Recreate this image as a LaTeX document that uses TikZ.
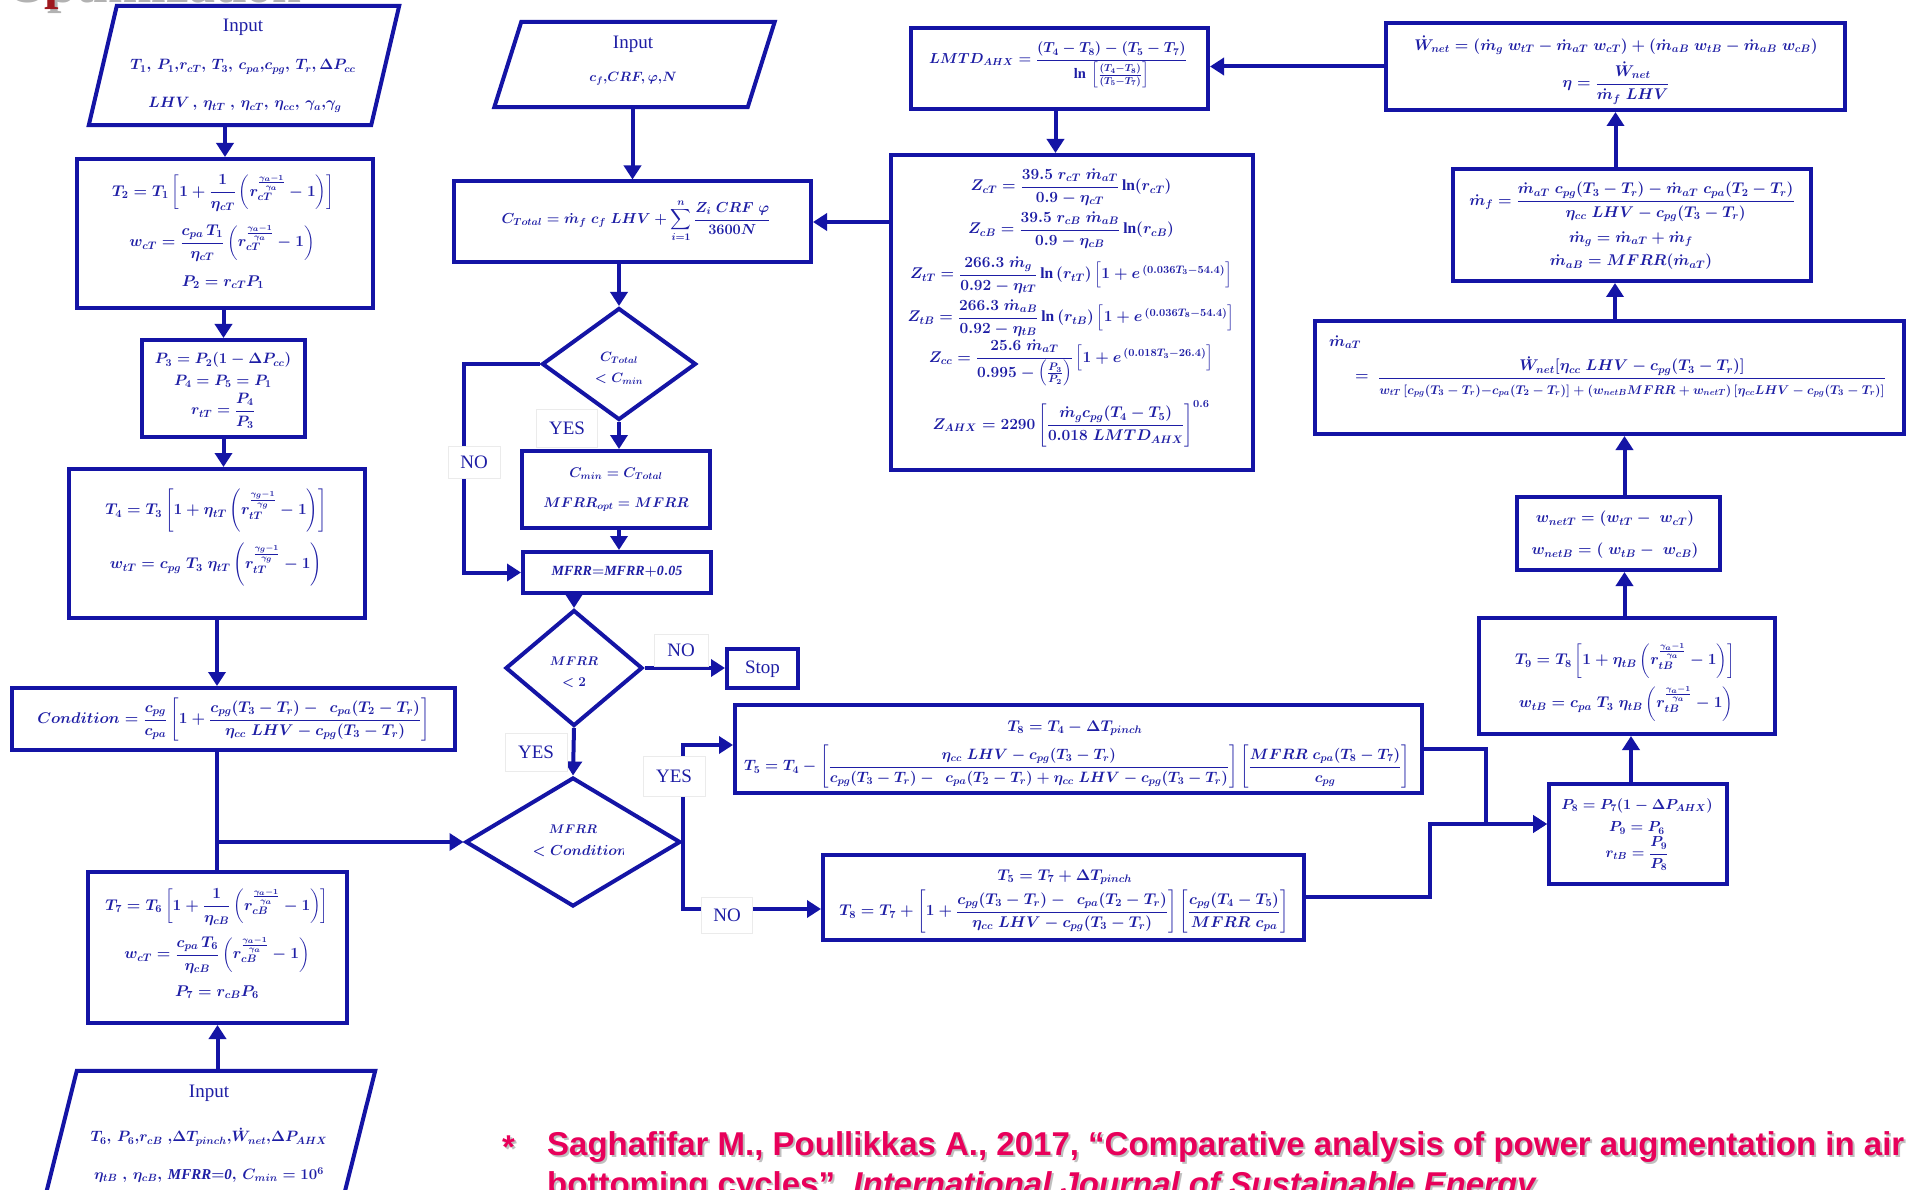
\RequirePackage{fix-cm}
\documentclass[tikz,border=0pt]{standalone}
\usepackage{amsmath}
\usepackage{fontspec}
\setmainfont{Liberation Serif}
\newfontfamily\notefont{Liberation Sans}
\usetikzlibrary{arrows.meta,shapes.geometric,calc}

\definecolor{flowline}{RGB}{20,20,165}
\definecolor{flowtext}{RGB}{30,30,165}
\definecolor{citered}{RGB}{232,0,90}
\definecolor{titlered}{RGB}{158,24,30}

\tikzset{
  box/.style={draw=flowline, line width=4pt, rectangle, inner sep=0pt},
  frame/.style={rectangle, inner sep=0pt},
  decision/.style={draw=flowline, line width=4pt, diamond, inner sep=0pt},
  eqbase/.style={text=flowtext, inner sep=0pt},
  eq/.style={eqbase, font=\fontsize{15.5}{19}\selectfont\boldmath},
  eqin/.style={eqbase, font=\fontsize{15}{18}\selectfont\boldmath},
  eqm/.style={eqbase, font=\fontsize{14.5}{18}\selectfont\boldmath},
  eqs/.style={eqbase, font=\fontsize{14}{17}\selectfont\boldmath},
  eqd/.style={eqbase, font=\fontsize{13.5}{16}\selectfont\boldmath},
  eqt/.style={eqbase, font=\fontsize{12.5}{15}\selectfont\boldmath},
  word/.style={text=flowtext, inner sep=0pt, font=\fontsize{19}{22}\selectfont},
  tag/.style={fill=white, draw=black!8, line width=0.6pt, inner sep=0pt, text=flowtext, font=\fontsize{19}{22}\selectfont},
  link/.style={draw=flowline, line width=4pt},
  arr/.style={link, -{Triangle[length=14pt,width=17pt]}},
  cite/.style={anchor=base west, inner sep=0pt, text=citered, font=\notefont\bfseries\fontsize{33}{40}\selectfont},
  citeshade/.style={cite, text=black!25},
}

\begin{document}
\begin{tikzpicture}[x=1pt,y=-1pt]
\useasboundingbox (0,0) rectangle (1907,1190);
\fill[white] (0,0) rectangle (1907,1190);
\begin{scope}
\clip (0,0) rectangle (1907,1190);

% heading, cut by the upper edge
\node[anchor=base west, inner sep=0pt, text=black!30, font=\fontsize{52}{60}\selectfont\bfseries] (titleshade) at (7,3) {Optimization};
\node[anchor=base west, inner sep=0pt, text=titlered, font=\fontsize{52}{60}\selectfont\bfseries] (title) at (4,-1) {Optimization};

% ---------------- left column: topping cycle ----------------
\node[frame, minimum width=282pt, minimum height=119pt] (in1) at (244,65.5) {};
\draw[link] ($(in1.north west)+(14,0)$) -- ($(in1.north east)+(14,0)$) -- ($(in1.south east)+(-14,0)$) -- ($(in1.south west)+(-14,0)$) -- cycle;
\node[word] (in1a) at (243,27) {Input};
\node[eqin] (in1b) at (243,67) {$T_1,\, P_1,\!r_{cT},\, T_3,\, c_{pa},\!c_{pg},\, T_r,\Delta P_{cc}$};
\node[eqin] (in1c) at (245,105) {$LHV\,,\, \eta_{tT}\;,\, \eta_{cT},\, \eta_{cc},\, \gamma_a,\!\gamma_g$};

\node[box, minimum width=296pt, minimum height=149pt] (b2) at (225,233.5) {};
\node[eq] (b2a) at (223,193) {$T_2 = T_1\left[1+\dfrac{1}{\eta_{cT}}\left(r_{cT}^{\frac{\gamma_a-1}{\gamma_a}}-1\right)\right]$};
\node[eq] (b2b) at (222,243) {$w_{cT} = \dfrac{c_{pa}\,T_1}{\eta_{cT}}\left(r_{cT}^{\frac{\gamma_a-1}{\gamma_a}}-1\right)$};
\node[eq] (b2c) at (223,282) {$P_2 = r_{cT}P_1$};

\node[box, minimum width=163pt, minimum height=97pt] (b3) at (223.5,388.5) {};
\node[eqin] (b3a) at (223,360) {$P_3 = P_2(1-\Delta P_{cc})$};
\node[eqin] (b3b) at (223,381) {$P_4 = P_5 = P_1$};
\node[eqin] (b3c) at (223,411) {$r_{tT} = \dfrac{P_4}{P_3}$};

\node[box, minimum width=296pt, minimum height=149pt] (b4) at (217,543.5) {};
\node[eq] (b4a) at (216,511) {$T_4 = T_3\left[1+\eta_{tT}\left(r_{tT}^{\frac{\gamma_g-1}{\gamma_g}}-1\right)\right]$};
\node[eq] (b4b) at (216,565) {$w_{tT} = c_{pg}\;T_3\;\eta_{tT}\left(r_{tT}^{\frac{\gamma_g-1}{\gamma_g}}-1\right)$};

\node[box, minimum width=443pt, minimum height=62pt] (bc) at (233.5,719) {};
\node[eq] (bca) at (233.5,720) {$Condition = \dfrac{c_{pg}}{c_{pa}}\left[1+\dfrac{c_{pg}(T_3-T_r)-\;\,c_{pa}(T_2-T_r)}{\eta_{cc}\;LHV-c_{pg}(T_3-T_r)}\right]$};

\node[box, minimum width=259pt, minimum height=151pt] (b7) at (217.5,947.5) {};
\node[eq] (b7a) at (217,907) {$T_7 = T_6\left[1+\dfrac{1}{\eta_{cB}}\left(r_{cB}^{\frac{\gamma_a-1}{\gamma_a}}-1\right)\right]$};
\node[eq] (b7b) at (217,955) {$w_{cT} = \dfrac{c_{pa}\,T_6}{\eta_{cB}}\left(r_{cB}^{\frac{\gamma_a-1}{\gamma_a}}-1\right)$};
\node[eq] (b7c) at (217,992) {$P_7 = r_{cB}P_6$};

\node[frame, minimum width=298pt, minimum height=159pt] (in3) at (206,1150.5) {};
\draw[link] ($(in3.north west)+(20,0)$) -- ($(in3.north east)+(20,0)$) -- ($(in3.south east)+(-20,0)$) -- ($(in3.south west)+(-20,0)$) -- cycle;
\node[word] (in3a) at (209,1093) {Input};
\node[eqin] (in3b) at (209,1137) {$T_6,\, P_6,\!r_{cB}\;,\!\Delta T_{pinch},\!\dot W_{net},\!\Delta P_{AHX}$};
\node[eqin] (in3c) at (209,1175) {$\eta_{tB}\;,\, \eta_{cB},\, \mathit{MFRR{=}0},\, C_{min} = 10^6$};

% ---------------- middle column: cost loop ----------------
\node[frame, minimum width=253pt, minimum height=85pt] (in2) at (634.5,64.5) {};
\draw[link] ($(in2.north west)+(13.5,0)$) -- ($(in2.north east)+(13.5,0)$) -- ($(in2.south east)+(-13.5,0)$) -- ($(in2.south west)+(-13.5,0)$) -- cycle;
\node[word] (in2a) at (633,44) {Input};
\node[eqd] (in2b) at (633,79) {$c_f,\!CRF,\varphi,\!N$};

\node[box, minimum width=357pt, minimum height=81pt] (bct) at (632.5,222) {};
\node[eqm] (bcta) at (636,221) {$C_{Total} = \dot m_f\;c_f\;LHV + \displaystyle\sum_{i=1}^{n}\frac{Z_i\;CRF\;\varphi}{3600N}$};

\node[decision, minimum width=154pt, minimum height=112pt] (d1) at (619,364) {};
\node[eqd] (d1a) at (619,358) {$C_{Total}$};
\node[eqd] (d1b) at (619,379) {$<C_{min}$};

\node[box, minimum width=188pt, minimum height=77pt] (bcm) at (616,489.5) {};
\node[eqs] (bcma) at (616,474) {$C_{min} = C_{Total}$};
\node[eqs] (bcmb) at (616,505) {$MFRR_{opt} = MFRR$};

\node[box, minimum width=188pt, minimum height=41pt] (bmf) at (617,572.5) {};
\node[eqs] (bmfa) at (617,572) {$\mathit{MFRR{=}MFRR{+}0.05}$};

\node[decision, minimum width=137pt, minimum height=116pt] (d2) at (574,668) {};
\node[eqt] (d2a) at (574,661) {$MFRR$};
\node[eqd] (d2b) at (574,683) {$<2$};

\node[box, minimum width=71pt, minimum height=39pt] (bst) at (762.5,668) {};
\node[word] (bsta) at (762.5,669) {Stop};

\node[decision, minimum width=215pt, minimum height=129pt] (d3) at (573,842) {};
\node[eqt] (d3a) at (573,829) {$MFRR$};
\begin{scope}
\clip (500,815) rectangle (623,870);
\node[eqm] (d3b) at (580,851) {$<Condition$};
\end{scope}

% ---------------- AHX boxes ----------------
\node[box, minimum width=687pt, minimum height=88pt] (bt5) at (1078.5,749) {};
\node[eq] (bt5a) at (1075,728) {$T_8 = T_4 - \Delta T_{pinch}$};
\node[eqin] (bt5b) at (1077,767) {$T_5 = T_4 - \left[\dfrac{\eta_{cc}\;LHV - c_{pg}(T_3-T_r)}{c_{pg}(T_3-T_r)-\;\,c_{pa}(T_2-T_r)+\eta_{cc}\;LHV-c_{pg}(T_3-T_r)}\right]\left[\dfrac{MFRR\;c_{pa}(T_8-T_7)}{c_{pg}}\right]$};

\node[box, minimum width=481pt, minimum height=85pt] (bt8) at (1063.5,897.5) {};
\node[eq] (bt8a) at (1065,877) {$T_5 = T_7 + \Delta T_{pinch}$};
\node[eq] (bt8b) at (1064,912) {$T_8 = T_7 + \left[1+\dfrac{c_{pg}(T_3-T_r)-\;\,c_{pa}(T_2-T_r)}{\eta_{cc}\;LHV-c_{pg}(T_3-T_r)}\right]\left[\dfrac{c_{pg}(T_4-T_5)}{MFRR\;c_{pa}}\right]$};

% ---------------- right column: bottoming cycle ----------------
\node[box, minimum width=178pt, minimum height=100pt] (bp8) at (1638,834) {};
\node[eqm] (bp8a) at (1637,806) {$P_8 = P_7(1-\Delta P_{AHX})$};
\node[eqm] (bp8b) at (1637,828) {$P_9 = P_6$};
\node[eqm] (bp8c) at (1637,854) {$r_{tB} = \dfrac{P_9}{P_8}$};

\node[box, minimum width=296pt, minimum height=116pt] (bt9) at (1627,676) {};
\node[eq] (bt9a) at (1625,661) {$T_9 = T_8\left[1+\eta_{tB}\left(r_{tB}^{\frac{\gamma_a-1}{\gamma_a}}-1\right)\right]$};
\node[eq] (bt9b) at (1626,704) {$w_{tB} = c_{pa}\;T_3\;\eta_{tB}\left(r_{tB}^{\frac{\gamma_a-1}{\gamma_a}}-1\right)$};

\node[box, minimum width=203pt, minimum height=73pt] (bwn) at (1618.5,533.5) {};
\node[eq] (bwna) at (1615,519) {$w_{netT} = (w_{tT}-\;w_{cT})$};
\node[eq] (bwnb) at (1615,551) {$w_{netB} = (\;w_{tB}-\;w_{cB})$};

\node[box, minimum width=589pt, minimum height=113pt] (bma) at (1609.5,377.5) {};
\node[eq] (bmal) at (1345,342) {$\dot m_{aT}$};
\node[eq] (bmae) at (1362,378) {$=$};
\node[eq] (bmaf) at (1632,377) {$\dfrac{\dot W_{net}\!\left[\eta_{cc}\;LHV-c_{pg}(T_3-T_r)\right]}{\text{\fontsize{12.6}{15}\selectfont$w_{tT}\left[c_{pg}(T_3-T_r){-}c_{pa}(T_2-T_r)\right]+(w_{netB}MFRR+w_{netT})\left[\eta_{cc}LHV-c_{pg}(T_3-T_r)\right]$}}$};

\node[box, minimum width=358pt, minimum height=112pt] (bmfb) at (1632,225) {};
\node[eq] (bmfba) at (1632,202) {$\dot m_f = \dfrac{\dot m_{aT}\;c_{pg}(T_3-T_r)-\dot m_{aT}\;c_{pa}(T_2-T_r)}{\eta_{cc}\;LHV-c_{pg}(T_3-T_r)}$};
\node[eq] (bmfbb) at (1631,239) {$\dot m_g = \dot m_{aT} + \dot m_f$};
\node[eq] (bmfbc) at (1631,262) {$\dot m_{aB} = MFRR(\dot m_{aT})$};

\node[box, minimum width=459pt, minimum height=87pt] (bw) at (1615.5,66.5) {};
\node[eq] (bwa) at (1616,45) {$\dot W_{net} = (\dot m_g\;w_{tT}-\dot m_{aT}\;w_{cT})+(\dot m_{aB}\;w_{tB}-\dot m_{aB}\;w_{cB})$};
\node[eq] (bwb) at (1616,83) {$\eta = \dfrac{\dot W_{net}}{\dot m_f\;LHV}$};

\node[box, minimum width=297pt, minimum height=81pt] (blm) at (1059.5,68.5) {};
\node[eqm] (blma) at (1058,65) {$LMTD_{AHX} = \dfrac{(T_4-T_8)-(T_5-T_7)}{\ln\,\left[\frac{(T_4-T_8)}{(T_5-T_7)}\right]}$};

\node[box, minimum width=362pt, minimum height=315pt] (bz) at (1072,312.5) {};
\node[eq] (z1) at (1071,187) {$Z_{cT} = \dfrac{39.5\;r_{cT}\;\dot m_{aT}}{0.9-\eta_{cT}}\ln(r_{cT})$};
\node[eq] (z2) at (1071,230) {$Z_{cB} = \dfrac{39.5\;r_{cB}\;\dot m_{aB}}{0.9-\eta_{cB}}\ln(r_{cB})$};
\node[eq] (z3) at (1071,275) {$Z_{tT} = \dfrac{266.3\;\dot m_g}{0.92-\eta_{tT}}\ln\,(r_{tT})\left[1+e^{\,(0.036T_3-54.4)}\right]$};
\node[eq] (z4) at (1071,318) {$Z_{tB} = \dfrac{266.3\;\dot m_{aB}}{0.92-\eta_{tB}}\ln\,(r_{tB})\left[1+e^{\,(0.036T_8-54.4)}\right]$};
\node[eq] (z5) at (1071,363) {$Z_{cc} = \dfrac{25.6\;\dot m_{aT}}{0.995-\left(\frac{P_3}{P_2}\right)}\left[1+e^{\,(0.018T_3-26.4)}\right]$};
\node[eq] (z6) at (1071,424) {$Z_{AHX} = 2290\left[\dfrac{\dot m_g c_{pg}(T_4-T_5)}{0.018\;LMTD_{AHX}}\right]^{0.6}$};

% ---------------- connectors ----------------
\draw[arr] (b2.north |- in1.south) -- (b2.north);
\draw[arr] (b3.north |- b2.south) -- (b3.north);
\draw[arr] (b3.south) -- (b3.south |- b4.north);
\draw[arr] (b4.south) -- (b4.south |- bc.north);
\coordinate (j1) at (b4.south |- d3.west);
\draw[link] (b4.south |- bc.south) -- (b4.south |- b7.north);
\draw[arr] (j1) -- (d3.west);
\draw[arr] (b7.south |- in3.north) -- (b7.south);

\draw[arr] (bct.north |- in2.south) -- (bct.north);
\draw[arr] (bz.west |- bct.east) -- (bct.east);
\draw[arr] (d1.north |- bct.south) -- (d1.north);
\draw[arr] (d1.south) -- (d1.south |- bcm.north);
\draw[arr] (d1.west) -- ++(-76,0) |- (bmf.west);
\draw[arr] (d1.south |- bcm.south) -- (d1.south |- bmf.north);
\draw[arr] (d2.north |- bmf.south) -- (d2.north);
\draw[arr] (d2.east) -- (bst.west);
\draw[arr] (d2.south) -- (d3.north);
\draw[arr] (d3.east) |- ($(bt5.west)+(0,-4)$);
\draw[arr] (d3.east) |- ($(bt8.west)+(0,11.5)$);

\coordinate (jr) at ($(bp8.west)+(0,-10)$);
\draw[arr] (bt5.east) -- ++(62,0) |- (jr);
\draw[arr] ($(bt8.east)+(0,-1)$) -- ++(124,0) |- (jr);
\draw[arr] ([xshift=-7pt]bp8.north) -- ([xshift=-7pt]bp8.north |- bt9.south);
\draw[arr] ([xshift=6pt]bwn.south |- bt9.north) -- ([xshift=6pt]bwn.south);
\draw[arr] ([xshift=6pt]bwn.north) -- ([xshift=6pt]bwn.north |- bma.south);
\draw[arr] ([xshift=-17pt]bmfb.south |- bma.north) -- ([xshift=-17pt]bmfb.south);
\draw[arr] (bw.south |- bmfb.north) -- (bw.south);
\draw[arr] (bw.west) -- (bw.west -| blm.east);
\draw[arr] ([xshift=-4pt]blm.south) -- ([xshift=-4pt]blm.south |- bz.north);

% branch labels
\node[tag, minimum width=61pt, minimum height=38pt] (yes1) at (567,428) {YES};
\node[tag, minimum width=52pt, minimum height=32pt] (no1) at (474,462) {NO};
\node[tag, minimum width=54pt, minimum height=32pt] (no2) at (681,650) {NO};
\node[tag, minimum width=62pt, minimum height=38pt] (yes2) at (536,752) {YES};
\node[tag, minimum width=62pt, minimum height=40pt] (yes3) at (674,776) {YES};
\node[tag, minimum width=51pt, minimum height=36pt] (no3) at (727,915) {NO};

% reference note
\node[citeshade] (starshade) at (504,1160) {*};
\node[citeshade] (cite1shade) at (549,1157) {Saghafifar M., Poullikkas A., 2017, “Comparative analysis of power augmentation in air};
\node[citeshade] (cite2shade) at (549,1197) {bottoming cycles”, \textit{International Journal of Sustainable Energy}};
\node[cite] (star) at (502,1158) {*};
\node[cite] (cite1) at (547,1155) {Saghafifar M., Poullikkas A., 2017, “Comparative analysis of power augmentation in air};
\node[cite] (cite2) at (547,1195) {bottoming cycles”, \textit{International Journal of Sustainable Energy}};
\end{scope}
\end{tikzpicture}
\end{document}
